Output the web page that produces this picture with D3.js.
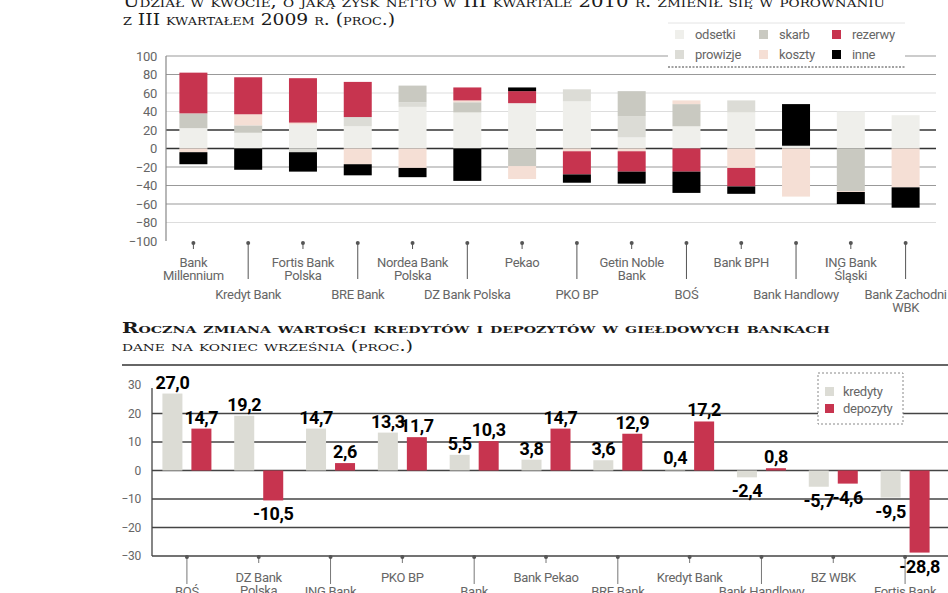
<!DOCTYPE html>
<html>
<head>
<meta charset="utf-8">
<script src="https://cdn.jsdelivr.net/npm/d3@7"></script>
<style>
  body { margin: 0; background: #fff; }
  svg { display: block; }
  .title { font-family: "DejaVu Serif", serif; font-variant: small-caps; fill: #1a1a1a; }
  .lab { font-family: Roboto, "Liberation Sans", sans-serif; fill: #666; letter-spacing: -0.3px; }
  .val { font-family: Roboto, "Liberation Sans", sans-serif; font-weight: bold; fill: #000; letter-spacing: -0.4px; }
</style>
</head>
<body>
<svg id="chart" width="948" height="593"></svg>
<script>
// Top chart: share of each item in the change of net profit (Q3 2010 vs Q3 2009)

const banksTop = ["Bank Millennium", "Kredyt Bank", "Fortis Bank Polska", "BRE Bank", "Nordea Bank Polska",
                  "DZ Bank Polska", "Pekao", "PKO BP", "Getin Noble Bank", "BOŚ", "Bank BPH",
                  "Bank Handlowy", "ING Bank Śląski", "Bank Zachodni WBK"];
const labelsTop = [["Bank", "Millennium"], ["Kredyt Bank"], ["Fortis Bank", "Polska"], ["BRE Bank"],
                   ["Nordea Bank", "Polska"], ["DZ Bank Polska"], ["Pekao"], ["PKO BP"],
                   ["Getin Noble", "Bank"], ["BOŚ"], ["Bank BPH"], ["Bank Handlowy"],
                   ["ING Bank", "Śląski"], ["Bank Zachodni", "WBK"]];

const categories = ["odsetki", "prowizje", "skarb", "koszty", "rezerwy", "inne"];
const odsetki  = [22, 17, 26, 24, 45, 39, 49, 51, 12, 24, 39, 3, 40, 36];
const prowizje = [0, 0, -4, 10, 5, 0, 0, 13, 23, 0, 13, 0, 0, 0];
const skarb    = [16, 8, 0, 0, 18, 11, -19, 0, 27, 24, 0, 0, -46, 0];
const koszty   = [-4, 12, 2, -17, -21, 2, -14, -3, -3, 4, -21, -52, -1, -42];
const rezerwy  = [44, 40, 48, 38, 0, 14, 13, -25, -22, -25, -20, 0, 0, 0];
const inne     = [-13, -23, -21, -12, -10, -35, 4, -9, -13, -23, -8, 45, -13, -22];
const yTicksTop = [100, 80, 60, 40, 20, 0, -20, -40, -60, -80, -100];

// Bottom chart: yearly change of loans and deposits
const banksBot = ["BOŚ", "DZ Bank Polska", "ING Bank Śląski", "PKO BP", "Bank Millennium", "Bank Pekao",
                  "BRE Bank", "Kredyt Bank", "Bank Handlowy", "BZ WBK", "Fortis Bank"];
const labelsBot = [["BOŚ"], ["DZ Bank", "Polska"], ["ING Bank", "Śląski"], ["PKO BP"], ["Bank", "Millennium"],
                   ["Bank Pekao"], ["BRE Bank"], ["Kredyt Bank"], ["Bank Handlowy"], ["BZ WBK"], ["Fortis Bank"]];
const kredyty  = [27.0, 19.2, 14.7, 13.3, 5.5, 3.8, 3.6, 0.4, -2.4, -5.7, -9.5];
const depozyty = [14.7, -10.5, 2.6, 11.7, 10.3, 14.7, 12.9, 17.2, 0.8, -4.6, -28.8];
const yTicksBot = [30, 20, 10, 0, -10, -20, -30];

const colors = {
  odsetki: "#efefeb", prowizje: "#dcdcd6", skarb: "#c9c9c1",
  koszty: "#f5dfd5", rezerwy: "#c7344f", inne: "#000000",
  kredyty: "#dcdcd5", depozyty: "#c7344f"
};

const svg = d3.select('#chart');

// ---------- titles ----------
svg.append('text').attr('class', 'title')
   .attr('x', 123).attr('y', 7).attr('font-size', 16)
   .attr('textLength', 762).attr('lengthAdjust', 'spacingAndGlyphs')
   .text('Udział w kwocie, o jaką zysk netto w III kwartale 2010 r. zmienił się w porównaniu');
svg.append('text').attr('class', 'title')
   .attr('x', 123).attr('y', 25).attr('font-size', 16)
   .attr('textLength', 272).attr('lengthAdjust', 'spacingAndGlyphs')
   .text('z III kwartałem 2009 r. (proc.)');

svg.append('text').attr('class', 'title')
   .attr('x', 122).attr('y', 333).attr('font-size', 14).attr('font-weight', 'bold')
   .attr('textLength', 708).attr('lengthAdjust', 'spacingAndGlyphs')
   .text('Roczna zmiana wartości kredytów i depozytów w giełdowych bankach');
svg.append('text').attr('class', 'title')
   .attr('x', 122).attr('y', 351).attr('font-size', 14)
   .attr('textLength', 291).attr('lengthAdjust', 'spacingAndGlyphs')
   .text('dane na koniec września (proc.)');

// ---------- top chart ----------
const xTop = d3.scalePoint().domain(banksTop).range([166, 933]).padding(0.5);
const yTop = d3.scaleLinear().domain([-100, 100]).range([241, 56]);
const barW = 28;

const gridColor = v => (v === 20 || v === 0) ? '#333' : (v === 60 || v === 40 || v === -80) ? '#ddd' : '#999';

svg.append('g').selectAll('line')
   .data(yTicksTop.filter(v => v !== -100))
   .join('line')
   .attr('x1', 166).attr('x2', 936)
   .attr('y1', d => yTop(d)).attr('y2', d => yTop(d))
   .attr('stroke', d => gridColor(d))
   .attr('stroke-width', d => (d === 20 || d === 0) ? 1.6 : 1.2);

const table = banksTop.map((b, i) => ({
  bank: b, odsetki: odsetki[i], prowizje: prowizje[i], skarb: skarb[i],
  koszty: koszty[i], rezerwy: rezerwy[i], inne: inne[i]
}));
const series = d3.stack().keys(categories).offset(d3.stackOffsetDiverging)(table);

svg.append('g').selectAll('g')
   .data(series)
   .join('g')
   .attr('fill', s => colors[s.key])
   .selectAll('rect')
   .data(s => s)
   .join('rect')
   .attr('x', d => xTop(d.data.bank) - barW / 2)
   .attr('width', barW)
   .attr('y', d => yTop(Math.max(d[0], d[1])))
   .attr('height', d => Math.abs(yTop(d[0]) - yTop(d[1])));

// y axis
svg.append('line').attr('x1', 166).attr('x2', 166).attr('y1', 56).attr('y2', 241)
   .attr('stroke', '#888').attr('stroke-width', 1.2);
const axTop = svg.append('g').attr('transform', 'translate(166,0)')
   .call(d3.axisLeft(yTop).tickValues(yTicksTop).tickSize(0).tickPadding(9));
axTop.select('.domain').remove();
axTop.selectAll('text').attr('class', 'lab').attr('font-size', 13).attr('fill', '#888');

// x ticks and labels
const xt = svg.append('g').selectAll('g').data(banksTop).join('g')
   .attr('transform', d => `translate(${xTop(d)},0)`);
xt.append('line').attr('y1', 243).attr('y2', (d, i) => i % 2 ? 279 : 249)
  .attr('stroke', '#555').attr('stroke-width', 1);
xt.append('circle').attr('cy', 243).attr('r', 2).attr('fill', '#555');
xt.each(function (d, i) {
  const base = i % 2 ? 299 : 267;
  d3.select(this).selectAll('text').data(labelsTop[i]).join('text')
    .attr('class', 'lab').attr('font-size', 13).attr('text-anchor', 'middle')
    .attr('y', (t, j) => base + j * 13).text(t => t);
});

// legend top
const legTop = svg.append('g');
legTop.append('rect').attr('x', 668).attr('y', 23).attr('width', 237).attr('height', 45).attr('fill', '#fff');
legTop.append('line').attr('x1', 668).attr('x2', 905).attr('y1', 23).attr('y2', 23).attr('stroke', '#e4e4e4');
legTop.append('line').attr('x1', 668).attr('x2', 905).attr('y1', 67).attr('y2', 67)
      .attr('stroke', '#444').attr('stroke-width', 1.2).attr('stroke-dasharray', '2,1.5');
const legOrder = ["odsetki", "skarb", "rezerwy", "prowizje", "koszty", "inne"];
const legItem = legTop.selectAll('g.it').data(legOrder).join('g')
   .attr('transform', (d, i) => `translate(${[675, 759, 832][i % 3]},${i < 3 ? 30 : 50})`);
legItem.append('rect').attr('width', 9).attr('height', 9).attr('fill', d => colors[d]);
legItem.append('text').attr('class', 'lab').attr('x', 20).attr('y', 9).attr('font-size', 13)
   .attr('fill', '#888').text(d => d);

// ---------- bottom chart ----------
const xBot = d3.scaleBand().domain(banksBot).range([151, 941]);
const xIn = d3.scaleBand().domain(["kredyty", "depozyty"]).range([-24.5, 24.5]).paddingInner(0.31);
const yBot = d3.scaleLinear().domain([-30, 30]).range([556, 385]);
const fmt = d3.formatLocale({ decimal: ",", thousands: " ", grouping: [3], currency: ["", " zł"], minus: "-" }).format(".1f");

svg.append('line').attr('x1', 122).attr('x2', 948).attr('y1', 365).attr('y2', 365)
   .attr('stroke', '#333').attr('stroke-width', 1.4);

svg.append('g').selectAll('line')
   .data(yTicksBot.filter(v => v !== 30))
   .join('line')
   .attr('x1', 152).attr('x2', 948)
   .attr('y1', d => yBot(d)).attr('y2', d => yBot(d))
   .attr('stroke', '#444').attr('stroke-width', 1.3);

svg.append('line').attr('x1', 152).attr('x2', 152).attr('y1', 388).attr('y2', 556)
   .attr('stroke', '#444').attr('stroke-width', 1.3);
const axBot = svg.append('g').attr('transform', 'translate(152,0)')
   .call(d3.axisLeft(yBot).tickValues(yTicksBot).tickSize(0).tickPadding(11));
axBot.select('.domain').remove();
axBot.selectAll('text').attr('class', 'lab').attr('font-size', 12).attr('fill', '#aaa');

const rows = banksBot.map((b, i) => [
  { bank: b, key: "kredyty", v: kredyty[i] },
  { bank: b, key: "depozyty", v: depozyty[i] }
]).flat();

const cx = d => xBot(d.bank) + xBot.bandwidth() / 2 + xIn(d.key);

svg.append('g').selectAll('rect').data(rows).join('rect')
   .attr('x', d => cx(d))
   .attr('width', xIn.bandwidth())
   .attr('y', d => yBot(Math.max(0, d.v)))
   .attr('height', d => Math.abs(yBot(d.v) - yBot(0)))
   .attr('fill', d => colors[d.key]);

svg.append('g').selectAll('text').data(rows).join('text')
   .attr('class', 'val').attr('font-size', 18).attr('text-anchor', 'middle')
   .attr('x', d => cx(d) + xIn.bandwidth() / 2)
   .attr('y', d => d.v >= 0 ? yBot(d.v) - 5 : yBot(d.v) + 20)
   .text(d => fmt(d.v));

// x ticks and labels bottom
const xb = svg.append('g').selectAll('g').data(banksBot).join('g')
   .attr('transform', d => `translate(${xBot(d) + xBot.bandwidth() / 2},0)`);
xb.append('line').attr('y1', 557).attr('y2', (d, i) => i % 2 ? 563 : 584)
  .attr('stroke', '#777').attr('stroke-width', 1);
xb.append('circle').attr('cy', 557).attr('r', 2).attr('fill', '#555');
xb.each(function (d, i) {
  const base = i % 2 ? 582 : 596;
  d3.select(this).selectAll('text').data(labelsBot[i]).join('text')
    .attr('class', 'lab').attr('font-size', 13).attr('text-anchor', 'middle')
    .attr('y', (t, j) => base + j * 13).text(t => t);
});

// legend bottom
const legBot = svg.append('g');
legBot.append('rect').attr('x', 818).attr('y', 373).attr('width', 85).attr('height', 51)
      .attr('fill', '#fff').attr('stroke', '#888').attr('stroke-dasharray', '2,2');
const lb = legBot.selectAll('g.it').data(["kredyty", "depozyty"]).join('g')
   .attr('transform', (d, i) => `translate(825,${387 + i * 17})`);
lb.append('rect').attr('width', 9).attr('height', 9).attr('fill', d => colors[d]);
lb.append('text').attr('class', 'lab').attr('x', 18).attr('y', 9).attr('font-size', 13)
   .attr('fill', '#888').text(d => d);
</script>
</body>
</html>
